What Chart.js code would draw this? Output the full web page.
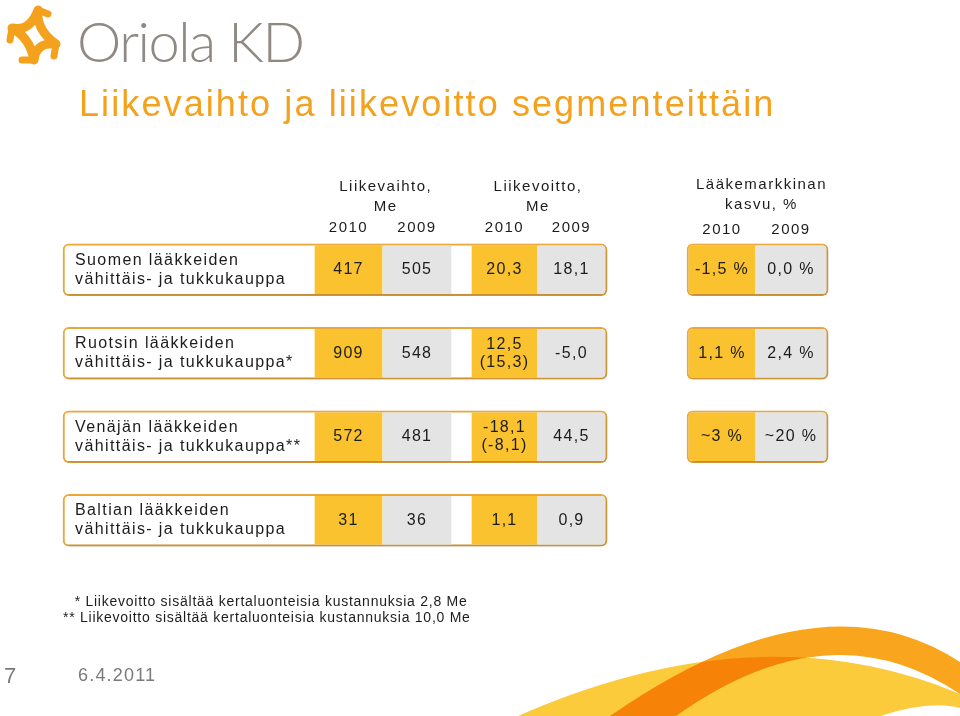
<!DOCTYPE html>
<html>
<head>
<meta charset="utf-8">
<script src="https://cdn.jsdelivr.net/npm/chart.js@4.4.0/dist/chart.umd.min.js"></script>
<style>
  html, body { margin: 0; padding: 0; background: #fff; }
  canvas { display: block; }
</style>
</head>
<body>
<canvas id="slide" width="960" height="716"></canvas>
<script>
// --- data ---
const segments = [
    ['Suomen lääkkeiden', 'vähittäis- ja tukkukauppa'],
    ['Ruotsin lääkkeiden', 'vähittäis- ja tukkukauppa*'],
    ['Venäjän lääkkeiden', 'vähittäis- ja tukkukauppa**'],
    ['Baltian lääkkeiden', 'vähittäis- ja tukkukauppa']
];
const years = ['2010', '2009'];
const liikevaihto2010 = [417, 909, 572, 31];
const liikevaihto2009 = [505, 548, 481, 36];
const liikevoitto2010 = [20.3, 12.5, -18.1, 1.1];
const liikevoitto2010Oikaistu = [null, 15.3, -8.1, null];   // shown in brackets
const liikevoitto2009 = [18.1, -5.0, 44.5, 0.9];
const markkina2010 = [-1.5, 1.1, 3, null];
const markkina2009 = [0.0, 2.4, 20, null];
const markkinaArvio = [false, false, true, null];            // "~" values
const footnotes = [
    ' * Liikevoitto sisältää kertaluonteisia kustannuksia 2,8 Me',
    '** Liikevoitto sisältää kertaluonteisia kustannuksia 10,0 Me'
];

// --- layout (x scale runs 0..960 across the slide) ---
const cols = {
    label: [63, 315],
    lv10: [315, 382], lv09: [383, 451],
    lo10: [472, 537], lo09: [538, 605],
    mk10: [689, 755], mk09: [756, 826]
};
const boxMain = [63, 607];
const boxMarket = [687, 828];

const ORANGE = '#F4A11D';
const BORDER = '#F0AB3C';
const YELLOW = '#F9C22E';
const GREY = '#E4E4E4';
const TEXT = '#1c1c1c';
const FONT = '"Liberation Sans", Arial, sans-serif';

const fmt1 = v => v.toFixed(1).replace('.', ',');

function span(values, edges) {
    return values.map(v => (v === null ? null : [edges[0], edges[1]]));
}

function cellSet(values, edges, color, radius, texts) {
    return {
        data: span(values, edges),
        backgroundColor: color,
        borderWidth: 0,
        borderSkipped: false,
        borderRadius: radius,
        barThickness: 48,
        grouped: false,
        order: 1,
        texts: texts
    };
}

const datasets = [
    {
        data: span(liikevaihto2010, boxMain),
        backgroundColor: '#fff', borderColor: BORDER, borderWidth: 2,
        borderRadius: 6, borderSkipped: false, barThickness: 52,
        grouped: false, order: 3, shadow: true
    },
    {
        data: span(markkina2010, boxMarket),
        backgroundColor: '#fff', borderColor: BORDER, borderWidth: 2,
        borderRadius: 6, borderSkipped: false, barThickness: 52,
        grouped: false, order: 3, shadow: true
    },
    cellSet(liikevaihto2010, cols.lv10, YELLOW, 0, liikevaihto2010.map(v => [String(v)])),
    cellSet(liikevaihto2009, cols.lv09, GREY, 0, liikevaihto2009.map(v => [String(v)])),
    cellSet(liikevoitto2010, cols.lo10, YELLOW, 0,
        liikevoitto2010.map((v, i) => liikevoitto2010Oikaistu[i] === null
            ? [fmt1(v)] : [fmt1(v), '(' + fmt1(liikevoitto2010Oikaistu[i]) + ')'])),
    cellSet(liikevoitto2009, cols.lo09, GREY, { topRight: 4, bottomRight: 4 },
        liikevoitto2009.map(v => [fmt1(v)])),
    cellSet(markkina2010, cols.mk10, YELLOW, { topLeft: 4, bottomLeft: 4 },
        markkina2010.map((v, i) => v === null ? null : [markkinaArvio[i] ? '~' + v + ' %' : fmt1(v) + ' %'])),
    cellSet(markkina2009, cols.mk09, GREY, { topRight: 4, bottomRight: 4 },
        markkina2009.map((v, i) => v === null ? null : [markkinaArvio[i] ? '~' + v + ' %' : fmt1(v) + ' %']))
];

function setFont(ctx, size, spacing, weight) {
    ctx.font = (weight || 'normal') + ' ' + size + 'px ' + FONT;
    ctx.letterSpacing = (spacing || 0) + 'px';
}

// soft shadow under the rounded boxes
const boxShadow = {
    id: 'boxShadow',
    beforeDatasetDraw(chart, args) {
        if (!chart.data.datasets[args.index].shadow) return;
        const ctx = chart.ctx;
        ctx.save();
        ctx.shadowColor = 'rgba(0,0,0,0.22)';
        ctx.shadowBlur = 4;
        ctx.shadowOffsetX = 2;
        ctx.shadowOffsetY = 2;
    },
    afterDatasetDraw(chart, args) {
        if (chart.data.datasets[args.index].shadow) chart.ctx.restore();
    }
};

// cell values and row labels
const cellText = {
    id: 'cellText',
    afterDatasetsDraw(chart) {
        const ctx = chart.ctx;
        const x = chart.scales.x, y = chart.scales.y;
        ctx.save();
        ctx.fillStyle = TEXT;
        ctx.textBaseline = 'middle';

        // segment names
        setFont(ctx, 16, 1.4);
        ctx.textAlign = 'left';
        segments.forEach((lines, i) => {
            const cy = y.getPixelForValue(i);
            ctx.fillText(lines[0], x.getPixelForValue(cols.label[0] + 12), cy - 9.5);
            ctx.fillText(lines[1], x.getPixelForValue(cols.label[0] + 12), cy + 9.5);
        });

        // numbers
        ctx.textAlign = 'center';
        chart.data.datasets.forEach((ds, di) => {
            if (!ds.texts) return;
            const meta = chart.getDatasetMeta(di);
            meta.data.forEach((bar, i) => {
                const lines = ds.texts[i];
                if (!lines || ds.data[i] === null) return;
                const p = bar.getProps(['x', 'y', 'base'], true);
                const cx = (p.x + p.base) / 2;
                setFont(ctx, 16, 1.3);
                if (lines.length === 1) {
                    ctx.fillText(lines[0], cx, p.y);
                } else {
                    ctx.fillText(lines[0], cx, p.y - 9);
                    ctx.fillText(lines[1], cx, p.y + 9);
                }
            });
        });
        ctx.restore();
    }
};

// slide furniture: logo, title, column headers, footnotes, footer
const slide = {
    id: 'slide',
    beforeDraw(chart) {
        const ctx = chart.ctx;
        const x = chart.scales.x;
        const mid = e => x.getPixelForValue((e[0] + e[1]) / 2);
        ctx.save();
        ctx.fillStyle = '#fff';
        ctx.fillRect(0, 0, chart.width, chart.height);

        // logo mark
        ctx.strokeStyle = ORANGE;
        ctx.lineWidth = 9;
        ctx.lineJoin = 'round';
        ctx.lineCap = 'round';
        ctx.beginPath();
        ctx.moveTo(12, 28);
        ctx.quadraticCurveTo(30, 32, 38, 10);
        ctx.quadraticCurveTo(36, 30, 56, 44);
        ctx.quadraticCurveTo(36, 42, 34, 60);
        ctx.quadraticCurveTo(30, 38, 12, 28);
        ctx.stroke();
        ctx.lineWidth = 7;
        ctx.beginPath();
        ctx.moveTo(38, 10); ctx.lineTo(48, 14);
        ctx.moveTo(12, 28); ctx.lineTo(10, 40);
        ctx.moveTo(56, 44); ctx.lineTo(54, 56);
        ctx.moveTo(34, 60); ctx.lineTo(22, 60);
        ctx.stroke();

        // logo text
        ctx.fillStyle = '#8F8984';
        ctx.textBaseline = 'alphabetic';
        ctx.textAlign = 'left';
        ctx.font = '300 56px Lato, "Open Sans", sans-serif';
        ctx.letterSpacing = '-1.5px';
        ctx.fillText('Oriola KD', 77, 62);

        // title
        ctx.fillStyle = ORANGE;
        setFont(ctx, 36, 2.1);
        ctx.textBaseline = 'middle';
        ctx.fillText('Liikevaihto ja liikevoitto segmenteittäin', 79, 106);

        // column headers
        ctx.fillStyle = TEXT;
        ctx.textAlign = 'center';
        setFont(ctx, 15, 1.5);
        const lvMid = (mid(cols.lv10) + mid(cols.lv09)) / 2;
        const loMid = (mid(cols.lo10) + mid(cols.lo09)) / 2;
        const mkMid = x.getPixelForValue((boxMarket[0] + boxMarket[1]) / 2);
        ctx.fillText('Liikevaihto,', lvMid + 3, 187);
        ctx.fillText('Me', lvMid + 3, 207);
        ctx.fillText('Liikevoitto,', loMid, 187);
        ctx.fillText('Me', loMid, 207);
        ctx.fillText('Lääkemarkkinan', mkMid + 4, 185);
        ctx.fillText('kasvu, %', mkMid + 4, 205);
        [[cols.lv10, cols.lv09, 228], [cols.lo10, cols.lo09, 228], [cols.mk10, cols.mk09, 230]]
            .forEach(([a, b, yy]) => {
                ctx.fillText(years[0], mid(a), yy);
                ctx.fillText(years[1], mid(b), yy);
            });

        // footnotes
        ctx.textAlign = 'left';
        setFont(ctx, 14, 0.75);
        ctx.fillText(footnotes[0], 70, 602);
        ctx.fillText(footnotes[1], 63, 618);

        // footer
        ctx.fillStyle = '#7a7a7a';
        setFont(ctx, 22, 0);
        ctx.fillText('7', 4, 677);
        setFont(ctx, 18, 1.2);
        ctx.fillText('6.4.2011', 78, 676);

        // swoosh
        ctx.letterSpacing = '0px';
        ctx.fillStyle = '#FCCB3C';
        ctx.beginPath();
        ctx.moveTo(518, 716);
        ctx.quadraticCurveTo(760, 610, 960, 694);
        ctx.lineTo(960, 716);
        ctx.closePath();
        ctx.fill();
        ctx.fillStyle = '#fff';
        ctx.beginPath();
        ctx.moveTo(880, 716);
        ctx.quadraticCurveTo(930, 700, 960, 708);
        ctx.lineTo(960, 716);
        ctx.closePath();
        ctx.fill();
        ctx.globalCompositeOperation = 'multiply';
        ctx.fillStyle = '#F9A51E';
        ctx.beginPath();
        ctx.moveTo(610, 716);
        ctx.quadraticCurveTo(820, 570, 960, 662);
        ctx.lineTo(960, 694);
        ctx.quadraticCurveTo(830, 606, 676, 716);
        ctx.closePath();
        ctx.fill();
        ctx.restore();
    }
};

new Chart(document.getElementById('slide'), {
    type: 'bar',
    data: { labels: segments.map(s => s[0]), datasets: datasets },
    options: {
        indexAxis: 'y',
        responsive: false,
        animation: false,
        events: [],
        layout: { padding: { top: 228, bottom: 154, left: 0, right: 0 } },
        scales: {
            x: { type: 'linear', min: 0, max: 960, display: false },
            y: { type: 'category', display: false, offset: true }
        },
        plugins: {
            legend: { display: false },
            tooltip: { enabled: false }
        }
    },
    plugins: [boxShadow, cellText, slide]
});
</script>
</body>
</html>
